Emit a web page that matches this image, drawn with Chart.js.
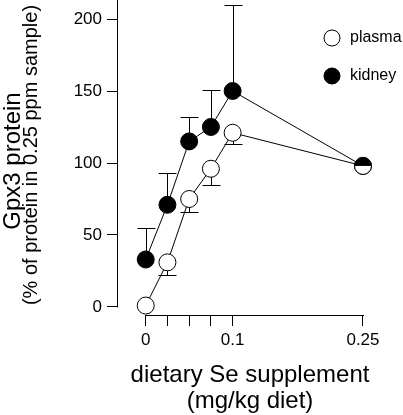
<!DOCTYPE html>
<html>
<head>
<meta charset="utf-8">
<script src="https://cdn.jsdelivr.net/npm/chart.js@4"></script>
<style>
body { margin: 0; background: #fff; }
#wrap { width: 403px; height: 415px; }
</style>
</head>
<body>
<div id="wrap"><canvas id="myChart" width="403" height="415"></canvas></div>
<script>
// data
var dose = [0, 0.025, 0.05, 0.075, 0.1, 0.25];
var plasma = [1, 31, 75, 96, 121, 98];
var plasmaErr = [0, 9, 9, 11, 8, 0];   // drawn downward
var kidney = [33, 71, 115, 125, 150, 98];
var kidneyErr = [22, 22, 17, 26, 60, 0]; // drawn upward
var yTicks = [0, 50, 100, 150, 200];
var xLabels = { 0: '0', 0.1: '0.1', 0.25: '0.25' };

var fontFam = '"Liberation Sans", Arial, sans-serif';

function pts(ys) {
  return dose.map(function (d, i) { return { x: d, y: ys[i] }; });
}

// half black / half white marker for the shared point at 0.25
var half = document.createElement('canvas');
half.width = 20; half.height = 20;
(function () {
  var c = half.getContext('2d');
  c.fillStyle = '#fff';
  c.beginPath(); c.arc(10, 10, 8.5, 0, Math.PI * 2); c.fill();
  c.fillStyle = '#000';
  c.beginPath(); c.arc(10, 10, 8.5, Math.PI, 0); c.closePath(); c.fill();
  c.strokeStyle = '#000'; c.lineWidth = 1;
  c.beginPath(); c.arc(10, 10, 8.5, 0, Math.PI * 2); c.stroke();
})();

function noPad(s) {
  s.paddingLeft = 0; s.paddingRight = 0; s.paddingTop = 0; s.paddingBottom = 0;
}

var extras = {
  id: 'extras',
  beforeDatasetsDraw: function (chart) {
    var ctx = chart.ctx, xs = chart.scales.x, ys = chart.scales.y;
    ctx.save();
    ctx.strokeStyle = '#000';
    ctx.lineWidth = 1;
    function bar(d, v, e, dir) {
      if (!e) return;
      var px = Math.round(xs.getPixelForValue(d)) + 0.5;
      var p0 = ys.getPixelForValue(v);
      var p1 = Math.round(ys.getPixelForValue(v + dir * e)) + 0.5;
      ctx.beginPath();
      ctx.moveTo(px, p0); ctx.lineTo(px, p1);
      ctx.moveTo(px - 9, p1); ctx.lineTo(px + 9, p1);
      ctx.stroke();
    }
    dose.forEach(function (d, i) {
      bar(d, kidney[i], kidneyErr[i], 1);
      bar(d, plasma[i], plasmaErr[i], -1);
    });
    ctx.restore();
  },
  afterDraw: function (chart) {
    var ctx = chart.ctx, xs = chart.scales.x, ys = chart.scales.y, a = chart.chartArea;
    ctx.save();
    ctx.strokeStyle = '#000';
    ctx.lineWidth = 1;
    // axis lines
    var yx = Math.round(a.left) - 0.5;
    ctx.beginPath();
    ctx.moveTo(yx, a.top);
    ctx.lineTo(yx, Math.round(ys.getPixelForValue(0)) + 0.5);
    var xy = Math.round(a.bottom) + 0.5;
    ctx.moveTo(Math.round(xs.getPixelForValue(0)), xy);
    ctx.lineTo(Math.round(xs.getPixelForValue(0.25)) + 1, xy);
    ctx.stroke();

    ctx.fillStyle = '#000';
    // x title
    ctx.textAlign = 'center';
    ctx.textBaseline = 'alphabetic';
    ctx.font = '24px ' + fontFam;
    ctx.fillText('dietary Se supplement', 250, 382);
    ctx.fillText('(mg/kg diet)', 250, 408);
    // y title
    ctx.save();
    ctx.translate(20, 161);
    ctx.rotate(-Math.PI / 2);
    ctx.font = '24px ' + fontFam;
    ctx.fillText('Gpx3 protein', 0, 0);
    ctx.restore();
    ctx.save();
    ctx.translate(37, 155);
    ctx.rotate(-Math.PI / 2);
    ctx.font = '20px ' + fontFam;
    ctx.fillText('(% of protein in 0.25 ppm sample)', 0, 0);
    ctx.restore();

    // legend
    ctx.font = '16px ' + fontFam;
    ctx.textAlign = 'left';
    ctx.textBaseline = 'middle';
    var items = [['plasma', '#fff', 38], ['kidney', '#000', 76]];
    items.forEach(function (it) {
      ctx.beginPath();
      ctx.arc(332, it[2], 8, 0, Math.PI * 2);
      ctx.fillStyle = it[1]; ctx.fill();
      ctx.stroke();
      ctx.fillStyle = '#000';
      ctx.fillText(it[0], 350, it[2]);
    });
    ctx.restore();
  }
};

var element = document.getElementById('myChart').getContext('2d');

var chartData = {
  datasets: [{
    label: 'plasma',
    data: pts(plasma),
    borderColor: '#000',
    borderWidth: 1,
    backgroundColor: '#fff',
    pointBackgroundColor: '#fff',
    pointBorderColor: '#000',
    pointBorderWidth: 1,
    pointRadius: 8.5,
    pointStyle: function (c) { return c.dataIndex === 5 ? half : 'circle'; },
    order: 0
  }, {
    label: 'kidney',
    data: pts(kidney),
    borderColor: '#000',
    borderWidth: 1,
    backgroundColor: '#000',
    pointBackgroundColor: '#000',
    pointBorderColor: '#000',
    pointBorderWidth: 1,
    pointRadius: 8.5,
    order: 1
  }]
};

var chartOptions = {
  responsive: false,
  animation: false,
  events: [],
  layout: { autoPadding: false, padding: { left: 0, top: 0, right: 3, bottom: 0 } },
  plugins: { legend: { display: false }, tooltip: { enabled: false } },
  scales: {
    x: {
      type: 'linear',
      min: -0.0319,
      max: 0.2926,
      afterFit: function (s) { s.height = 100; noPad(s); },
      afterBuildTicks: function (s) { s.ticks = dose.map(function (d) { return { value: d }; }); },
      grid: { drawOnChartArea: false, drawTicks: true, tickLength: 11, color: '#000', lineWidth: 1 },
      border: { display: false },
      ticks: {
        color: '#000',
        font: { size: 17, family: fontFam },
        padding: 4,
        maxRotation: 0,
        autoSkip: false,
        callback: function (v) { return xLabels[v] || ''; }
      }
    },
    y: {
      min: -5.56,
      max: 213.2,
      afterFit: function (s) { s.width = 118; noPad(s); },
      afterBuildTicks: function (s) { s.ticks = yTicks.map(function (t) { return { value: t }; }); },
      grid: { drawOnChartArea: false, drawTicks: true, tickLength: 11, color: '#000', lineWidth: 1 },
      border: { display: false },
      ticks: {
        color: '#000',
        font: { size: 17, family: fontFam },
        padding: 5
      }
    }
  }
};

var chart = new Chart(element, { type: 'line', data: chartData, options: chartOptions, plugins: [extras] });
</script>
</body>
</html>
